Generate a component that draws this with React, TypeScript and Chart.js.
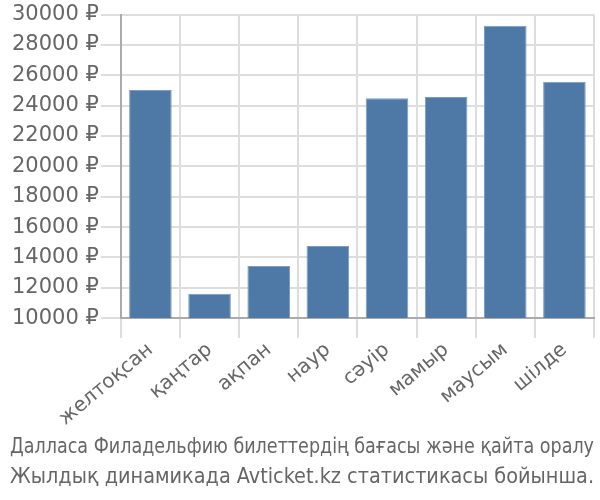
import React, { useEffect, useRef } from "react";
import { Chart, registerables } from "chart.js";

Chart.register(...registerables);

const categories = ["желтоқсан", "қаңтар", "ақпан", "наур", "сәуір", "мамыр", "маусым", "шілде"];
const prices = [25030, 11600, 13440, 14750, 24480, 24570, 29270, 25580];
const yMin = 10000;
const yMax = 30000;
const yStep = 2000;
const currency = "₽";
const titleLines = [
  "Далласа Филадельфию билеттердің бағасы және қайта оралу",
  "Жылдық динамикада Avticket.kz статистикасы бойынша.",
];

export default function App() {
  const ref = useRef<HTMLCanvasElement | null>(null);
  useEffect(() => {
    if (!ref.current) return;
    const chart = new Chart(ref.current, {
      type: "bar",
      data: {
        labels: categories,
        datasets: [
          {
            data: prices,
            backgroundColor: "#4e79a7",
            borderColor: "#7b9cc2",
            borderWidth: 1,
          },
        ],
      },
      options: {
        animation: false,
        responsive: false,
        maintainAspectRatio: false,
        layout: { padding: { top: 4, right: 6, left: 10, bottom: 0 } },
        plugins: {
          legend: { display: false },
          tooltip: { enabled: false },
          title: {
            display: true,
            position: "bottom",
            text: titleLines,
            color: "#666",
            font: { family: "'DejaVu Sans Condensed', 'Liberation Sans', sans-serif", size: 21.5, weight: "normal", lineHeight: 1.38 },
            padding: { top: 2, bottom: 8 },
          },
        },
        scales: {
          x: {
            grid: { color: "#dddddd", lineWidth: 2, tickLength: 20, offset: true },
            border: { color: "#aaaaaa", width: 2 },
            ticks: {
              color: "#666",
              font: { family: "'DejaVu Sans', sans-serif", size: 20 },
              maxRotation: 40,
              minRotation: 40,
              padding: 0,
            },
          },
          y: {
            min: yMin,
            max: yMax,
            grid: { color: "#dddddd", lineWidth: 2, tickLength: 20 },
            border: { color: "#aaaaaa", width: 2 },
            ticks: {
              stepSize: yStep,
              color: "#666",
              font: { family: "'DejaVu Sans', sans-serif", size: 21 },
              padding: 2,
              callback: (v: any) => `${v} ${currency}`,
            },
          },
        },
      },
    });
    return () => chart.destroy();
  }, []);
  return (
    <div style={{ position: "fixed", left: 0, top: 0, width: 600, height: 500, background: "#fff" }}>
      <canvas ref={ref} width={600} height={500} style={{ display: "block" }} />
    </div>
  );
}
